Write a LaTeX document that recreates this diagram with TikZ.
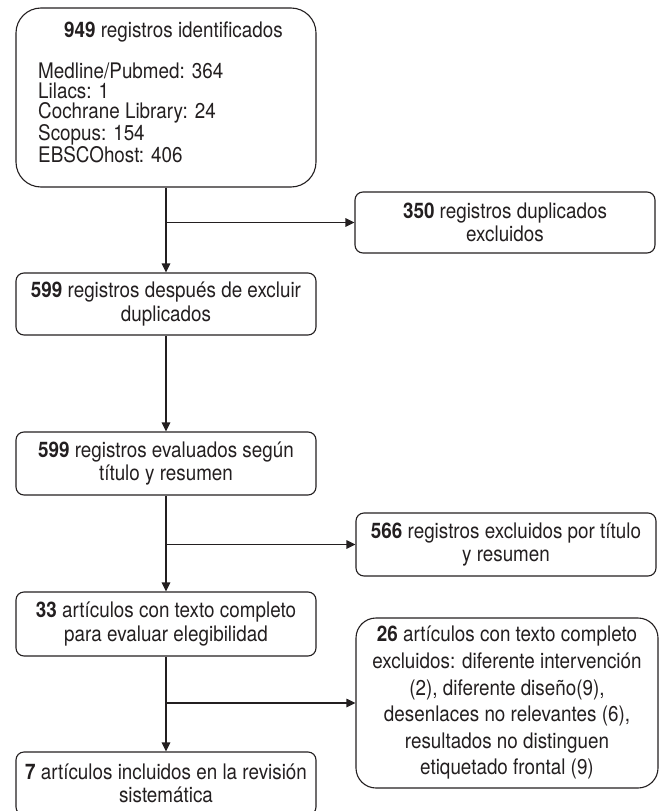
\documentclass[tikz,border=0pt]{standalone}
\usepackage{fontspec}
\setmainfont{TeX Gyre Heros}[FakeStretch=0.88]
\usetikzlibrary{arrows.meta}
\definecolor{ink}{HTML}{231F20}
\begin{document}
\begin{tikzpicture}[x=1bp,y=-1bp,
  box/.style={draw=ink, line width=1.1bp, rounded corners=8bp, align=center,
    inner sep=0pt, minimum width=300bp, text=ink,
    font=\fontsize{21.5}{23.5}\selectfont},
  txt/.style={inner sep=0pt, text=ink, font=\fontsize{21.5}{23.5}\selectfont},
  conn/.style={draw=ink, line width=1.1bp, -{Triangle[length=9bp,width=8.5bp]}},
]
\useasboundingbox (0,0) rectangle (660,811);
% boxes
\node[box, minimum height=179bp, rounded corners=25bp] (b1) at (166,97.5) {};
\node[txt] (t1) at (173.5,32) {\textbf{949} registros identificados};
\node[txt, align=left, anchor=north west, font=\fontsize{21.5}{20.4}\selectfont] (l1) at (38,62.5)
  {Medline/Pubmed: 364\\Lilacs: 1\\Cochrane Library: 24\\Scopus: 154\\EBSCOhost: 406};
\node[box, minimum height=61bp] (e1) at (505,222.5) {\textbf{350} registros duplicados\\excluidos};
\node[box, minimum height=62bp] (b2) at (166,304) {\textbf{599} registros después de excluir\\duplicados};
\node[box, minimum height=63bp] (b3) at (166,463.5) {\textbf{599} registros evaluados según\\título y resumen};
\node[box, minimum height=63bp] (e2) at (506,544.5) {\textbf{566} registros excluidos por título\\y resumen};
\node[box, minimum height=64bp] (b4) at (166,624) {\textbf{33} artículos con texto completo\\para evaluar elegibilidad};
\node[box, minimum width=302bp, minimum height=170bp, rounded corners=20bp,
  font=\fontsize{21.5}{26.7}\selectfont] (e3) at (507,703)
  {\textbf{26} artículos con texto completo\\excluidos: diferente intervención\\(2), diferente diseño(9),\\desenlaces no relevantes (6),\\resultados no distinguen\\etiquetado frontal (9)};
\node[box, minimum height=63bp] (b5) at (166,783.5) {\textbf{7} artículos incluidos en la revisión\\sistemática};
% connectors
\draw[conn] (b1.south) -- (b2.north);
\draw[conn] (b1 |- e1) -- (e1.west);
\draw[conn] (b2.south) -- (b3.north);
\draw[conn] (b3.south) -- (b4.north);
\draw[conn] (b3 |- e2) -- (e2.west);
\draw[conn] (b4.south) -- (b5.north);
\draw[conn] (b4 |- e3) -- (e3.west);
\end{tikzpicture}
\end{document}
